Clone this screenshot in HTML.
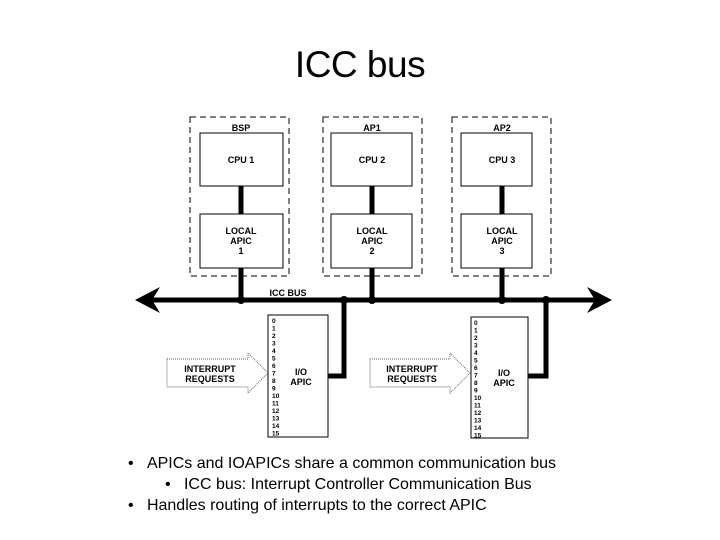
<!DOCTYPE html>
<html><head><style>
body{margin:0;background:#fff;width:720px;height:540px;overflow:hidden;position:relative;font-family:"Liberation Sans",sans-serif}
.t{position:absolute;left:0;width:720px;text-align:center;top:44px;font-size:37px;font-family:"Liberation Sans",sans-serif;letter-spacing:-0.5px}
.b{position:absolute;font-size:16px;white-space:nowrap}
</style></head><body>
<div class="t">ICC bus</div>
<svg width="720" height="540" style="position:absolute;left:0;top:0" font-family="Liberation Sans" font-weight="bold">
<g fill="none" stroke="#000" stroke-width="1" stroke-dasharray="6,4">
<rect x="190" y="117" width="99" height="159"/>
<rect x="323" y="117" width="99" height="159"/>
<rect x="452" y="117" width="99" height="159"/>
</g>
<g fill="#fff" stroke="#000" stroke-width="1">
<rect x="200" y="133" width="83" height="53"/>
<rect x="200" y="214" width="83" height="54"/>
<rect x="331" y="133" width="81" height="53"/>
<rect x="331" y="214" width="81" height="54"/>
<rect x="461" y="133" width="71" height="53"/>
<rect x="461" y="214" width="71" height="54"/>
<rect x="268" y="315" width="60" height="122"/>
<rect x="471" y="317" width="57" height="121"/>
</g>
<g stroke="#000" stroke-width="5" fill="none">
<line x1="241" y1="186" x2="241" y2="214"/><line x1="241" y1="268" x2="241" y2="300"/>
<line x1="372" y1="186" x2="372" y2="214"/><line x1="372" y1="268" x2="372" y2="300"/>
<line x1="502" y1="186" x2="502" y2="214"/><line x1="502" y1="268" x2="502" y2="300"/>
<line x1="150" y1="300" x2="595" y2="300"/>
<polyline points="328,376 344,376 344,300"/>
<polyline points="528,376 546,376 546,300"/>
</g>
<polygon points="135,300 160,287 152,300 160,313" fill="#000"/>
<polygon points="612,300 587,287 595,300 587,313" fill="#000"/>
<g fill="#000"><circle cx="241" cy="300" r="4"/><circle cx="344" cy="300" r="4"/><circle cx="372" cy="300" r="4"/><circle cx="502" cy="300" r="4"/><circle cx="546" cy="300" r="4"/></g>
<g fill="#fff" stroke="#666" stroke-width="1" stroke-dasharray="1,1">
<polygon points="167,359 248,359 248,353 268,373 248,393 248,387 167,387"/>
<polygon points="370,359 450,359 450,353 470,373 450,393 450,387 370,387"/>
</g>
<g font-size="9" text-anchor="middle" fill="#000">
<text x="241" y="131">BSP</text><text x="372" y="131">AP1</text><text x="502" y="131">AP2</text>
<text x="241" y="163">CPU 1</text><text x="372" y="163">CPU 2</text><text x="502" y="163">CPU 3</text>
<text x="241" y="234">LOCAL</text><text x="241" y="244">APIC</text><text x="241" y="254">1</text>
<text x="372" y="234">LOCAL</text><text x="372" y="244">APIC</text><text x="372" y="254">2</text>
<text x="502" y="234">LOCAL</text><text x="502" y="244">APIC</text><text x="502" y="254">3</text>
<text x="288" y="296">ICC BUS</text>
<text x="210" y="372">INTERRUPT</text><text x="210" y="382">REQUESTS</text>
<text x="412" y="372">INTERRUPT</text><text x="412" y="382">REQUESTS</text>
<text x="301" y="375">I/O</text><text x="301" y="385">APIC</text>
<text x="504" y="376">I/O</text><text x="504" y="386">APIC</text>
</g>
<g font-size="6.5" fill="#000">
<text x="272" y="323">0</text><text x="272" y="330.5">1</text><text x="272" y="338">2</text><text x="272" y="345.5">3</text><text x="272" y="353">4</text><text x="272" y="360.5">5</text><text x="272" y="368">6</text><text x="272" y="375.5">7</text><text x="272" y="383">8</text><text x="272" y="390.5">9</text><text x="272" y="398">10</text><text x="272" y="405.5">11</text><text x="272" y="413">12</text><text x="272" y="420.5">13</text><text x="272" y="428">14</text><text x="272" y="435.5">15</text>
<text x="474" y="325">0</text><text x="474" y="332.5">1</text><text x="474" y="340">2</text><text x="474" y="347.5">3</text><text x="474" y="355">4</text><text x="474" y="362.5">5</text><text x="474" y="370">6</text><text x="474" y="377.5">7</text><text x="474" y="385">8</text><text x="474" y="392.5">9</text><text x="474" y="400">10</text><text x="474" y="407.5">11</text><text x="474" y="415">12</text><text x="474" y="422.5">13</text><text x="474" y="430">14</text><text x="474" y="437.5">15</text>
</g>
</svg>
<div class="b" style="left:128px;top:455px">•&nbsp;&nbsp;&nbsp;APICs and IOAPICs share a common communication bus</div>
<div class="b" style="left:165px;top:476px">•&nbsp;&nbsp;&nbsp;ICC bus: Interrupt Controller Communication Bus</div>
<div class="b" style="left:128px;top:497px">•&nbsp;&nbsp;&nbsp;Handles routing of interrupts to the correct APIC</div>
</body></html>
